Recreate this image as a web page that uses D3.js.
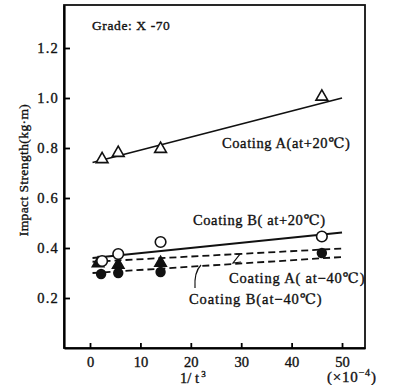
<!DOCTYPE html>
<html><head><meta charset="utf-8">
<script src="https://cdn.jsdelivr.net/npm/d3@7"></script>
<style>
html,body{margin:0;padding:0;background:#fff;}
svg{display:block;}
svg text{font-family:"Liberation Serif","DejaVu Serif",serif !important;fill:#111;stroke:#111;stroke-width:0.35px;}
</style></head>
<body>
<script>
// ---- data ----
const xTicks = [0, 10, 20, 30, 40, 50];
const yTicks = [0.2, 0.4, 0.6, 0.8, 1.0, 1.2];
const yTickLabels = ["0.2", "0.4", "0.6", "0.8", "1.0", "1.2"];

const xPts = [2.4, 5.6, 14, 46];
const aWarm = [0.755, 0.78, 0.796, 1.005];   // Coating A (+20°C) triangles
const bWarm = [0.348, 0.376, 0.424, 0.446];  // Coating B (+20°C) open circles
const aColdX = [1.6, 5.6, 14];
const aCold = [0.338, 0.332, 0.34];          // Coating A (-40°C) filled triangles
const bColdX = [2.2, 5.6, 14, 46];
const bCold = [0.296, 0.30, 0.304, 0.38];    // Coating B (-40°C) filled circles

const fitX = [0.5, 50];
const aWarmFit = [0.742, 1.0];
const bWarmFit = [0.36, 0.462];
const aColdFit = [0.345, 0.398];
const bColdFit = [0.3, 0.364];

const W = 395, H = 385;
const FONT = "'Liberation Serif', 'DejaVu Serif', serif";
const svg = d3.select("body").append("svg").attr("width", W).attr("height", H);

const x = d3.scaleLinear().domain([-5.16, 54.56]).range([64, 365]);
const y = d3.scaleLinear().domain([0, 1.372]).range([348, 5]);

// frame
svg.append("rect").attr("x", 64).attr("y", 5).attr("width", 301).attr("height", 343)
  .attr("fill", "none").attr("stroke", "#111").attr("stroke-width", 1.8);

// axes (inward ticks)
const xAxis = d3.axisBottom(x).tickValues(xTicks).tickSizeInner(-5).tickSizeOuter(0).tickPadding(9);
const gx = svg.append("g").attr("transform", "translate(0,348)").call(xAxis).attr("font-family", FONT);
gx.select(".domain").attr("stroke-width", 2.2);
gx.selectAll(".tick line").attr("stroke-width", 1.8);
gx.selectAll("text").attr("font-size", 14.5).attr("font-family", FONT).attr("fill", "#111");

const yAxis = d3.axisLeft(y).tickValues(yTicks).tickFormat((d, i) => yTickLabels[i])
  .tickSizeInner(-6).tickSizeOuter(0).tickPadding(5);
const gy = svg.append("g").attr("transform", "translate(64,0)").call(yAxis).attr("font-family", FONT);
gy.select(".domain").attr("stroke-width", 2.2);
gy.selectAll(".tick line").attr("stroke-width", 1.8);
gy.selectAll("text").attr("font-size", 14.5).attr("font-family", FONT)
  .attr("letter-spacing", 1.2).attr("fill", "#111");

// fit lines
const line = d3.line().x(d => x(d[0])).y(d => y(d[1]));
function fit(vals, dashed) {
  svg.append("path").datum(fitX.map((v, i) => [v, vals[i]]))
    .attr("d", line).attr("fill", "none").attr("stroke", "#111").attr("stroke-width", 1.8)
    .attr("stroke-dasharray", dashed ? "7,4" : null);
}
fit(aWarmFit, false);
fit(bWarmFit, false);
fit(aColdFit, true);
fit(bColdFit, true);

// markers
const tri = d3.symbol().type(d3.symbolTriangle).size(60);
svg.selectAll(".aw").data(xPts).enter().append("path")
  .attr("d", tri).attr("transform", (d, i) => `translate(${x(d)},${y(aWarm[i])})`)
  .attr("fill", "#fff").attr("stroke", "#111").attr("stroke-width", 1.6);
svg.selectAll(".ac").data(aColdX).enter().append("path")
  .attr("d", tri).attr("transform", (d, i) => `translate(${x(d)},${y(aCold[i])})`)
  .attr("fill", "#111").attr("stroke", "#111").attr("stroke-width", 1.4);
svg.selectAll(".bc").data(bColdX).enter().append("circle")
  .attr("cx", d => x(d)).attr("cy", (d, i) => y(bCold[i])).attr("r", 5.2)
  .attr("fill", "#111");
svg.selectAll(".bw").data(xPts).enter().append("circle")
  .attr("cx", d => x(d)).attr("cy", (d, i) => y(bWarm[i])).attr("r", 5.3)
  .attr("fill", "#fff").attr("stroke", "#111").attr("stroke-width", 1.6);

// labels
function label(t, px, py, fs, ls) {
  svg.append("text").attr("x", px).attr("y", py).attr("font-size", fs || 14.5)
    .attr("font-family", FONT).attr("letter-spacing", ls == null ? 0.6 : ls).text(t);
}
label("Grade: X -70", 92, 30, 13.5);
label("Coating  A(at+20\u2103)", 222, 148);
label("Coating  B( at+20\u2103)", 193, 225);
label("Coating  A( at\u221240\u2103)", 229, 283, 14.5, 0.8);
label("Coating  B(at\u221240\u2103)", 189, 304, 14.5, 0.9);

// leader marks
svg.append("path").attr("d", "M234,254 L240,254 L233,263 L241,262")
  .attr("fill", "none").attr("stroke", "#111").attr("stroke-width", 1.2);
svg.append("path").attr("d", "M201,265 Q194,272 195,288")
  .attr("fill", "none").attr("stroke", "#111").attr("stroke-width", 1.2);

// axis titles
svg.append("text").attr("transform", "translate(28,170) rotate(-90)")
  .attr("text-anchor", "middle").attr("font-size", 13.5).attr("font-family", FONT)
  .attr("letter-spacing", 0.4).text("Impact Strength(kg\u00b7m)");
const xl = svg.append("text").attr("x", 180).attr("y", 383).attr("font-size", 14.5).attr("font-family", FONT);
xl.append("tspan").text("1/ t");
xl.append("tspan").attr("dy", -6).attr("font-size", 9).text(" 3");
const xu = svg.append("text").attr("x", 327).attr("y", 382).attr("font-size", 15).attr("font-family", FONT)
  .attr("letter-spacing", 0.8);
xu.append("tspan").text("(\u00d710");
xu.append("tspan").attr("dy", -6).attr("font-size", 10).text("\u22124");
xu.append("tspan").attr("dy", 6).text(")");
</script>
</body></html>
